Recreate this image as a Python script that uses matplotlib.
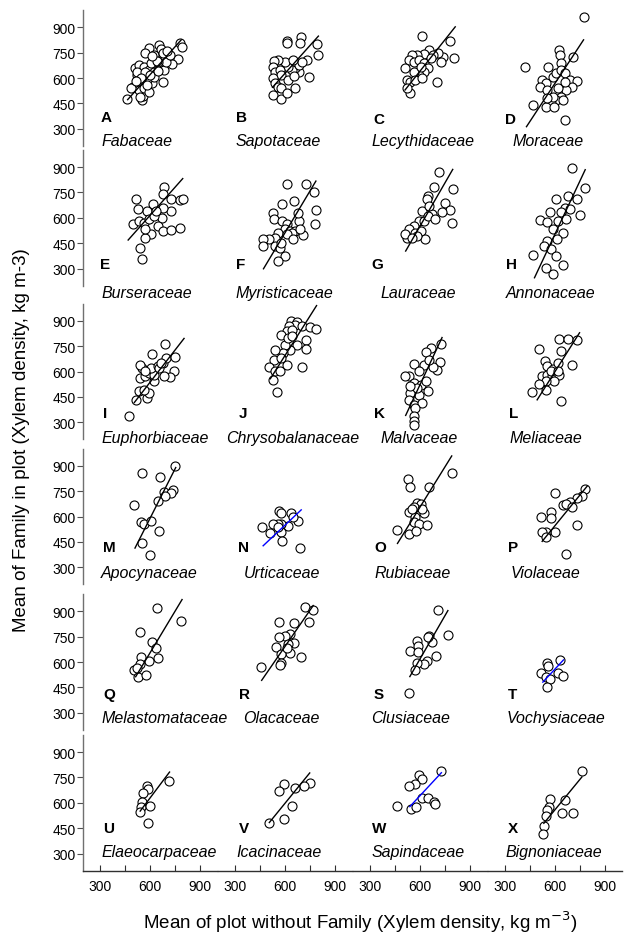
import numpy as np
import matplotlib.pyplot as plt

plt.rcParams['font.family'] = ['Liberation Sans', 'DejaVu Sans']

letters = list("ABCDEFGHIJKLMNOPQRSTUVWX")
families = ["Fabaceae", "Sapotaceae", "Lecythidaceae", "Moraceae",
            "Burseraceae", "Myristicaceae", "Lauraceae", "Annonaceae",
            "Euphorbiaceae", "Chrysobalanaceae", "Malvaceae", "Meliaceae",
            "Apocynaceae", "Urticaceae", "Rubiaceae", "Violaceae",
            "Melastomataceae", "Olacaceae", "Clusiaceae", "Vochysiaceae",
            "Elaeocarpaceae", "Icacinaceae", "Sapindaceae", "Bignoniaceae"]

# x = mean of plot without family, y = mean of family in plot (kg m-3)
fabaceae_x = [466, 553, 560, 594, 656, 668, 780, 791, 766, 735, 687, 625, 573, 511, 532, 563, 594, 625, 656, 687,
              697, 677, 615, 584, 553, 521, 501, 532, 563, 594, 542, 490, 521, 604, 646, 625, 573, 718, 677,
              545, 600, 640, 580, 520, 610, 700, 650]
fabaceae_y = [474, 471, 494, 780, 796, 770, 809, 782, 711, 683, 727, 736, 746, 658, 677, 668, 648, 638, 668, 648,
              697, 579, 569, 589, 608, 618, 549, 530, 539, 520, 490, 539, 638, 687, 697, 608, 638, 736, 746,
              600, 620, 700, 560, 580, 730, 760, 640]
sapotaceae_x = [612, 612, 697, 689, 793, 797, 731, 745, 683, 662, 642, 621, 600, 559, 534, 528, 538, 569, 579, 528,
                538, 559, 579, 528, 575, 611, 662, 621, 652, 683, 704, 646]
sapotaceae_y = [819, 809, 845, 805, 800, 736, 707, 608, 638, 658, 648, 668, 697, 707, 703, 668, 638, 648, 618, 599,
                569, 549, 539, 500, 474, 510, 539, 589, 612, 677, 697, 707]
lecythidaceae_x = [615, 780, 805, 739, 708, 656, 677, 625, 584, 553, 532, 563, 594, 625, 646, 625, 594, 563, 511,
                   521, 538, 573, 615, 542, 521, 702, 666, 729, 604]
lecythidaceae_y = [849, 821, 717, 723, 746, 766, 736, 742, 736, 736, 707, 697, 707, 687, 658, 638, 618, 638, 658,
                   589, 579, 589, 599, 510, 539, 575, 717, 697, 668]
moraceae_x = [772, 420, 658, 623, 633, 637, 710, 561, 524, 544, 513, 555, 586, 606, 637, 658, 689, 731, 700, 668,
              637, 606, 575, 544, 472, 586, 555, 617, 658, 648, 596]
moraceae_y = [963, 668, 352, 766, 736, 687, 723, 668, 589, 569, 549, 530, 608, 628, 648, 628, 589, 583, 549, 530,
              490, 471, 451, 431, 441, 490, 480, 539, 579, 471, 431]
burseraceae_x = [517, 683, 677, 728, 780, 801, 728, 673, 677, 619, 584, 528, 501, 532, 563, 594, 625, 646, 677, 728,
                 780, 604, 573, 542, 553, 635, 573]
burseraceae_y = [709, 782, 738, 709, 705, 713, 640, 597, 660, 679, 640, 650, 561, 581, 571, 591, 610, 551, 522, 526,
                 541, 502, 482, 423, 358, 640, 532]
myristicaceae_x = [615, 724, 772, 786, 778, 706, 652, 584, 528, 532, 584, 611, 600, 631, 662, 683, 679, 642, 559,
                   538, 507, 472, 472, 538, 569, 600, 559, 611, 693, 646, 575]
myristicaceae_y = [801, 801, 754, 646, 563, 498, 699, 679, 630, 591, 581, 561, 532, 522, 522, 581, 630, 512, 512,
                   482, 473, 473, 433, 433, 423, 374, 344, 502, 532, 473, 453]
lauraceae_x = [714, 797, 687, 646, 642, 749, 780, 735, 791, 671, 615, 656, 594, 625, 563, 532, 521, 511, 573, 604,
               631, 584, 553, 646, 693]
lauraceae_y = [870, 768, 784, 729, 713, 685, 646, 636, 567, 620, 640, 670, 581, 581, 551, 532, 482, 502, 512, 522,
               473, 492, 482, 610, 591]
annonaceae_x = [700, 782, 735, 751, 679, 658, 637, 606, 569, 513, 555, 617, 664, 586, 648, 555, 534, 575, 606, 648,
                590, 544, 472, 611, 689]
annonaceae_y = [892, 774, 709, 616, 729, 660, 636, 713, 636, 587, 577, 581, 591, 532, 512, 463, 433, 413, 374, 321,
                266, 305, 378, 473, 650]
euphorbiaceae_x = [476, 515, 584, 594, 532, 563, 542, 573, 594, 625, 625, 604, 553, 542, 573, 646, 677, 697, 693,
                   611, 753, 743, 722, 683, 656, 666]
euphorbiaceae_y = [339, 433, 443, 473, 482, 492, 561, 571, 591, 541, 581, 620, 620, 640, 601, 630, 650, 679, 762,
                   705, 685, 601, 565, 571, 620, 650]
chrysobalanaceae_x = [637, 673, 658, 627, 611, 642, 704, 749, 786, 724, 724, 704, 673, 631, 600, 579, 621, 590, 538,
                      534, 507, 538, 573, 611, 528, 553, 642, 579]
chrysobalanaceae_y = [900, 892, 876, 867, 837, 847, 867, 861, 853, 788, 735, 624, 758, 729, 758, 817, 798, 709, 729,
                      670, 624, 601, 601, 640, 551, 478, 807, 679]
malvaceae_x = [729, 666, 635, 718, 702, 677, 625, 567, 594, 532, 511, 563, 604, 635, 646, 594, 542, 532, 563, 615,
               573, 567, 567, 563, 656, 584, 542]
malvaceae_y = [762, 738, 715, 656, 610, 626, 636, 644, 601, 575, 575, 532, 522, 541, 486, 463, 473, 433, 404, 413,
               384, 335, 309, 285, 670, 502, 512]
meliaceae_x = [623, 679, 731, 507, 637, 540, 555, 590, 617, 704, 524, 555, 582, 627, 596, 544, 503, 548, 466, 635,
               575, 617]
meliaceae_y = [792, 792, 788, 735, 719, 660, 630, 616, 650, 636, 571, 581, 571, 581, 545, 541, 526, 488, 476, 427,
               601, 601]
apocynaceae_x = [749, 553, 662, 683, 739, 728, 693, 646, 507, 548, 563, 604, 652, 553, 598]
apocynaceae_y = [900, 857, 835, 746, 756, 736, 723, 693, 670, 565, 555, 575, 512, 441, 374]
urticaceae_x = [565, 579, 635, 677, 646, 621, 575, 559, 528, 466, 513, 575, 584, 689, 559]
urticaceae_y = [630, 618, 618, 571, 595, 545, 555, 555, 555, 536, 500, 506, 457, 411, 536]
rubiaceae_x = [791, 526, 542, 656, 584, 604, 563, 532, 625, 573, 563, 594, 642, 464, 532, 579, 553, 615]
rubiaceae_y = [855, 821, 776, 776, 677, 673, 654, 624, 618, 595, 565, 555, 549, 522, 496, 512, 644, 644]
violaceae_x = [782, 762, 731, 689, 648, 668, 700, 602, 575, 519, 575, 735, 602, 544, 524, 544, 664]
violaceae_y = [762, 719, 709, 683, 670, 673, 654, 736, 624, 595, 591, 551, 506, 506, 506, 476, 378]
melastomataceae_x = [642, 784, 542, 615, 635, 646, 594, 548, 542, 507, 528, 577, 521]
melastomataceae_y = [920, 841, 775, 720, 686, 627, 607, 631, 587, 552, 512, 524, 567]
olacaceae_x = [721, 770, 745, 652, 563, 631, 600, 563, 652, 548, 621, 631, 579, 697, 575, 573, 459, 611]
olacaceae_y = [924, 910, 839, 831, 835, 765, 755, 746, 712, 692, 706, 656, 647, 633, 597, 583, 571, 686]
clusiaceae_x = [708, 766, 656, 671, 584, 588, 538, 588, 697, 642, 625, 584, 573, 532, 646]
clusiaceae_y = [910, 759, 755, 720, 726, 696, 666, 660, 637, 607, 587, 593, 553, 419, 746]
vochysiaceae_x = [550, 561, 633, 519, 544, 569, 617, 648, 555]
vochysiaceae_y = [597, 577, 611, 538, 514, 498, 538, 518, 455]
elaeocarpaceae_x = [714, 584, 588, 557, 553, 548, 600, 542, 590]
elaeocarpaceae_y = [728, 700, 679, 659, 606, 577, 582, 543, 479]
icacinaceae_x = [749, 714, 662, 596, 563, 642, 596, 507]
icacinaceae_y = [718, 698, 688, 710, 671, 582, 502, 483]
sapindaceae_x = [729, 594, 611, 573, 536, 464, 548, 579, 615, 646, 683, 691]
sapindaceae_y = [786, 763, 743, 714, 700, 582, 563, 577, 626, 630, 602, 592]
bignoniaceae_x = [762, 662, 569, 565, 555, 548, 644, 706, 534, 528]
bignoniaceae_y = [786, 616, 620, 577, 557, 522, 537, 537, 463, 416]

# fitted lines: x range, slope, intercept, colour
fit_x0 = [467, 526, 511, 430, 470, 472, 515, 478, 507, 513, 515, 494,
          511, 470, 466, 524, 515, 461, 540, 528, 542, 507, 540, 534]
fit_x1 = [788, 801, 812, 772, 797, 786, 797, 782, 805, 790, 733, 748,
          755, 698, 791, 793, 793, 770, 768, 652, 718, 749, 729, 762]
fit_slope = [1.10, 1.10, 1.24, 1.50, 1.11, 1.65, 1.71, 2.10, 1.27, 1.56, 2.11, 1.56,
             1.95, 0.93, 1.59, 1.21, 1.64, 1.43, 1.71, 1.06, 1.31, 1.21, 1.06, 1.20]
fit_intercept = [-41, -33, -104, -332, -53, -480, -477, -758, -227, -243, -746, -338,
                 -583, -10, -300, -181, -331, -167, -409, -78, -159, -130, 5, -162]
fit_color = ['black'] * 24
fit_color[13] = fit_color[19] = fit_color[22] = 'blue'

panel_x = [fabaceae_x, sapotaceae_x, lecythidaceae_x, moraceae_x,
           burseraceae_x, myristicaceae_x, lauraceae_x, annonaceae_x,
           euphorbiaceae_x, chrysobalanaceae_x, malvaceae_x, meliaceae_x,
           apocynaceae_x, urticaceae_x, rubiaceae_x, violaceae_x,
           melastomataceae_x, olacaceae_x, clusiaceae_x, vochysiaceae_x,
           elaeocarpaceae_x, icacinaceae_x, sapindaceae_x, bignoniaceae_x]
panel_y = [fabaceae_y, sapotaceae_y, lecythidaceae_y, moraceae_y,
           burseraceae_y, myristicaceae_y, lauraceae_y, annonaceae_y,
           euphorbiaceae_y, chrysobalanaceae_y, malvaceae_y, meliaceae_y,
           apocynaceae_y, urticaceae_y, rubiaceae_y, violaceae_y,
           melastomataceae_y, olacaceae_y, clusiaceae_y, vochysiaceae_y,
           elaeocarpaceae_y, icacinaceae_y, sapindaceae_y, bignoniaceae_y]

# layout (pixels of a 626x937 figure)
W, H = 626.0, 937.0
col_left = [83.1, 218.1, 353.1, 488.1]
col_w = 133.5
row_top = [11.4, 151.1, 304.8, 449.8, 595.4, 736.1]
row_h = 135.4
letter_ypos = [372, 325, 354, 417, 413, 453]
name_ypos = [230, 161, 210, 270, 270, 312]
letter_xpos = [308, 306, 321, 300, 304, 306, 310, 306, 321, 325, 325, 327,
               321, 321, 325, 321, 321, 325, 325, 321, 321, 325, 315, 321]
letter_dy = [0] * 24
letter_dy[2] = letter_dy[3] = -16
name_xpos = [308, 306, 308, 348, 308, 306, 366, 306, 308, 248, 366, 327,
             308, 352, 331, 335, 308, 352, 310, 312, 308, 310, 310, 306]

fig = plt.figure(figsize=(W / 100, H / 100), dpi=100)

for k in range(24):
    r, c = divmod(k, 4)
    ax = fig.add_axes([col_left[c] / W, 1 - (row_top[r] + row_h) / H, col_w / W, row_h / H])
    ax.set_facecolor('none')
    ax.set_xlim(200, 1000)
    ax.set_ylim(200, 1000)
    for s in ax.spines.values():
        s.set_visible(False)

    if c == 0:
        ax.spines['left'].set_visible(True)
        ax.spines['left'].set_color('#707070')
        ax.spines['left'].set_linewidth(1.0)
        ax.set_yticks([300, 450, 600, 750, 900])
        ax.tick_params(axis='y', direction='out', length=4, width=0.8, color='#505050',
                       labelsize=10, pad=1.5)
    else:
        ax.set_yticks([])
    if r == 5:
        ax.spines['bottom'].set_visible(True)
        ax.spines['bottom'].set_color('#303030')
        ax.spines['bottom'].set_linewidth(1.0)
        ax.set_xticks([300, 600, 900])
        ax.set_xticks([450, 750], minor=True)
        ax.tick_params(axis='x', which='both', direction='in', length=4, width=0.8,
                       color='#303030', labelsize=10, pad=6)
    else:
        ax.set_xticks([])

    x = np.array(panel_x[k], dtype=float)
    y = np.array(panel_y[k], dtype=float)
    ax.plot(x, y, 'o', ms=6.5, mfc='white', mec='black', mew=0.8, clip_on=False, zorder=2)

    lx = np.array([fit_x0[k], fit_x1[k]], dtype=float)
    ax.plot(lx, fit_slope[k] * lx + fit_intercept[k], '-', color=fit_color[k], lw=1.0,
            clip_on=False, zorder=3)

    ax.text(letter_xpos[k], letter_ypos[r] + letter_dy[k], letters[k], fontsize=11,
            fontweight='bold', ha='left', va='center')
    ax.text(name_xpos[k], name_ypos[r], families[k], fontsize=11.5, fontstyle='italic',
            ha='left', va='center')

fig.text(22 / W, 1 - 440 / H, "Mean of Family in plot (Xylem density, kg m-3)",
         rotation=90, ha='center', va='center', fontsize=13.5)
fig.text(360 / W, 1 - 922 / H, "Mean of plot without Family (Xylem density, kg m$^{-3}$)",
         ha='center', va='center', fontsize=13.5)

fig.savefig("out.png", dpi=100)
plt.close(fig)
